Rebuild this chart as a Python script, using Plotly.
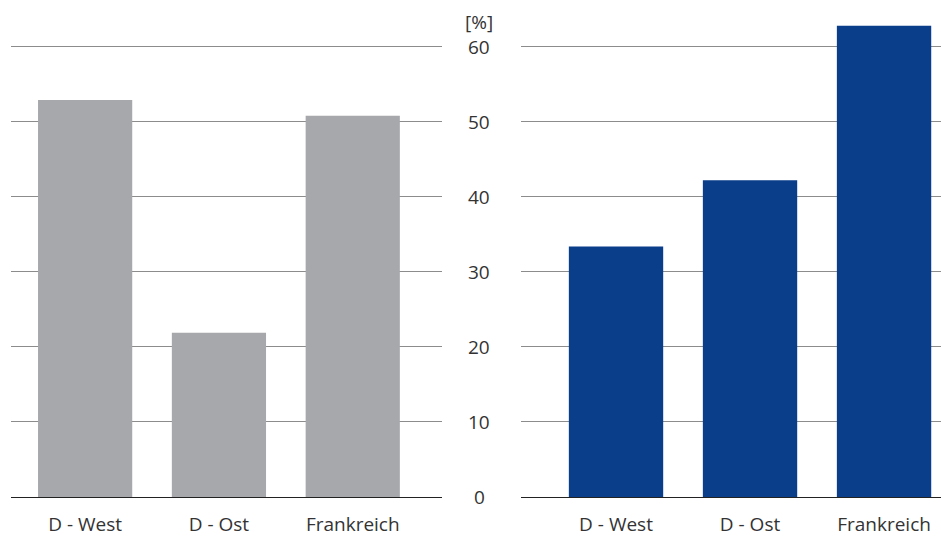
import plotly.graph_objects as go

categories = ["D - West", "D - Ost", "Frankreich"]
left_values = [52.9, 21.9, 50.8]
right_values = [33.4, 42.2, 62.8]
y_ticks = [0, 10, 20, 30, 40, 50, 60]
unit_label = "[%]"

W, H = 941, 537
FONT = "Open Sans"
TXT = "#333333"

fig = go.Figure()
fig.add_trace(go.Bar(x=categories, y=left_values, marker_color="#a7a8ab",
                     marker_line_width=0, width=0.704, xaxis="x", yaxis="y"))
fig.add_trace(go.Bar(x=categories, y=right_values, marker_color="#0a3d8a",
                     marker_line_width=0, width=0.704, xaxis="x2", yaxis="y2"))

yr = [0, 502.3 / 7.583]
common_y = dict(range=yr, showgrid=True, gridcolor="#8c8c8c", gridwidth=1,
                tickvals=y_ticks, showticklabels=False, zeroline=True,
                zerolinecolor="#222222", zerolinewidth=1, fixedrange=True)
common_x = dict(showline=False, tickfont=dict(family=FONT, size=19, color=TXT),
                ticks="outside", ticklen=10, tickcolor="rgba(0,0,0,0)", showgrid=False,
                fixedrange=True)

fig.update_layout(
    width=W, height=H, margin=dict(l=0, r=0, t=0, b=35),
    paper_bgcolor="white", plot_bgcolor="rgba(0,0,0,0)",
    showlegend=False, bargap=0.3,
    xaxis=dict(domain=[11 / W, 442 / W], range=[-0.554, 2.667], anchor="y", **common_x),
    xaxis2=dict(domain=[521 / W, 1.0], range=[-0.709, 2.425], anchor="y2", **common_x),
    yaxis=dict(anchor="x", **common_y),
    yaxis2=dict(anchor="x2", **common_y),
)

for v in y_ticks:
    fig.add_annotation(x=479 / W, xref="paper", y=v, yref="y", text=str(v),
                       showarrow=False, xanchor="center", yanchor="middle",
                       font=dict(family=FONT, size=19, color=TXT))
fig.add_annotation(x=479 / W, xref="paper", y=1 - 22 / 502, yref="paper",
                   text=unit_label, showarrow=False, xanchor="center", yanchor="middle",
                   font=dict(family=FONT, size=19, color=TXT))

fig.write_html("out.html", config={"displayModeBar": False},
               post_script="document.body.style.margin='0px';document.body.style.overflow='hidden';")
